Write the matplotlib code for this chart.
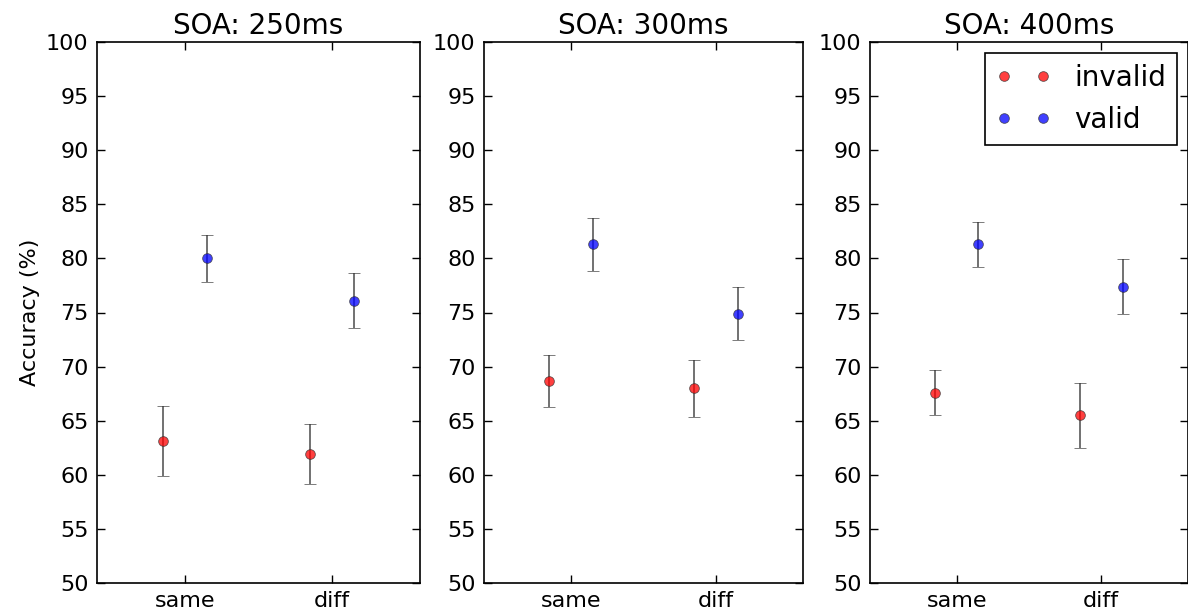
import matplotlib.pyplot as plt
import numpy as np

# accuracy per SOA, cue condition and location (same / diff)
soas = ["250ms", "300ms", "400ms"]
locations = ["same", "diff"]

invalid_mean = [[63.1, 61.9], [68.7, 68.0], [67.6, 65.5]]
invalid_err = [[3.25, 2.75], [2.4, 2.65], [2.05, 3.0]]
valid_mean = [[80.0, 76.1], [81.3, 74.9], [81.3, 77.4]]
valid_err = [[2.15, 2.55], [2.45, 2.45], [2.1, 2.55]]

plt.rcParams['font.family'] = 'DejaVu Sans'
plt.rcParams['font.size'] = 16

fig = plt.figure(figsize=(11.88, 6.14), dpi=100)
lefts = [97, 484, 870]
widths = [323, 319, 318]

x = np.arange(len(locations))
off = 0.15

for i, soa in enumerate(soas):
    ax = fig.add_axes([lefts[i] / 1188, 31 / 614, widths[i] / 1188, 541 / 614])
    ax.errorbar(x - off, invalid_mean[i], yerr=invalid_err[i], fmt='o', color='red',
                alpha=0.75, ms=7, mec='#333333', mew=0.6, ecolor='#333333',
                elinewidth=1.3, capsize=4, capthick=1.3, label='invalid')
    ax.errorbar(x + off, valid_mean[i], yerr=valid_err[i], fmt='o', color='blue',
                alpha=0.75, ms=7, mec='#333333', mew=0.6, ecolor='#333333',
                elinewidth=1.3, capsize=4, capthick=1.3, label='valid')
    ax.set_xlim(-0.6, 1.6)
    ax.set_ylim(50, 100)
    ax.set_yticks(np.arange(50, 101, 5))
    ax.set_xticks(x)
    ax.set_xticklabels(locations)
    ax.tick_params(direction='in', length=6, width=1, top=True, right=True, pad=6)
    ax.set_title("SOA: " + soa, fontsize=20, pad=6)
    for s in ax.spines.values():
        s.set_linewidth(1.2)
    if i == 0:
        ax.set_ylabel("Accuracy (%)", fontsize=16)
    if i == 2:
        h, l = ax.get_legend_handles_labels()
        h = [hh[0] for hh in h]
        leg = ax.legend(h, l, loc='upper right', numpoints=2, fancybox=False,
                        framealpha=1, edgecolor='black', fontsize=20,
                        borderaxespad=0.4)
        leg.get_frame().set_linewidth(1.2)

fig.savefig("out.png", dpi=100)
